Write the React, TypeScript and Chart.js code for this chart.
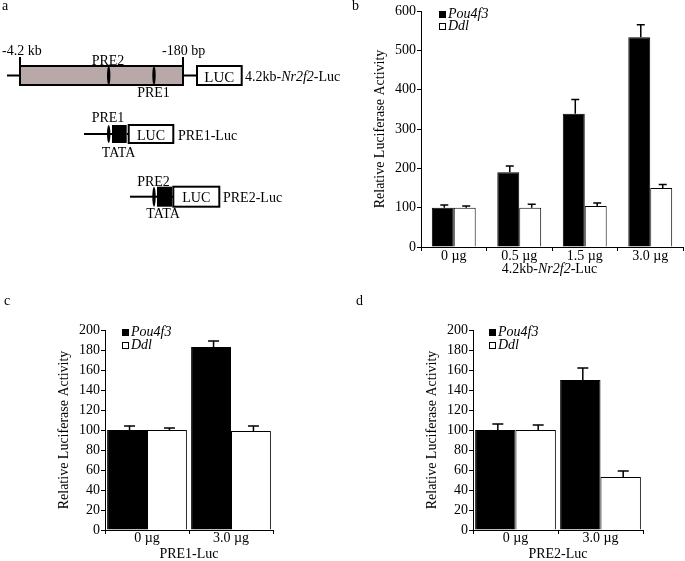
import React, { useEffect, useRef } from 'react';
import { Chart, registerables } from 'chart.js';

Chart.register(...registerables);

const FONT = '"Liberation Serif", "Times New Roman", serif';

// ---------- data ----------
const seriesNames = ['Pou4f3', 'Ddl'];
const seriesColors = ['#000000', '#ffffff'];
const yTitle = 'Relative Luciferase Activity';

// panel b : 4.2kb-Nr2f2-Luc
const bCategories = ['0 µg', '0.5 µg', '1.5 µg', '3.0 µg'];
const bPou4f3 = [100, 190, 339, 533];
const bPou4f3Err = [7, 16, 36, 32];
const bDdl = [100, 100, 104, 150];
const bDdlErr = [4, 9, 8, 9];
const bYMax = 600;
const bYStep = 100;

// panel c : PRE1-Luc
const cCategories = ['0 µg', '3.0 µg'];
const cPou4f3 = [100, 183];
const cPou4f3Err = [4, 6];
const cDdl = [100, 99];
const cDdlErr = [2, 5];
const cYMax = 200;
const cYStep = 20;
const cXTitle = 'PRE1-Luc';

// panel d : PRE2-Luc
const dCategories = ['0 µg', '3.0 µg'];
const dPou4f3 = [100, 150];
const dPou4f3Err = [6, 12];
const dDdl = [100, 53];
const dDdlErr = [5, 6];
const dYMax = 200;
const dYStep = 20;
const dXTitle = 'PRE2-Luc';

// ---------- plugins ----------
const errorBarsPlugin = {
  id: 'errorBars',
  afterDatasetsDraw(chart: any, _args: any, opts: any) {
    const errs: number[][] = opts.errors || [];
    const { ctx } = chart;
    const yScale = chart.scales.y;
    ctx.save();
    ctx.strokeStyle = '#000';
    ctx.lineWidth = opts.lineWidth || 1.5;
    chart.data.datasets.forEach((ds: any, i: number) => {
      const meta = chart.getDatasetMeta(i);
      meta.data.forEach((bar: any, j: number) => {
        const v = ds.data[j] as number;
        const e = (errs[i] && errs[i][j]) || 0;
        const x = bar.x + (opts.shift || 0);
        const yTop = yScale.getPixelForValue(v + e);
        const yBase = yScale.getPixelForValue(v);
        ctx.beginPath();
        ctx.moveTo(x, yBase);
        ctx.lineTo(x, yTop);
        ctx.moveTo(x - opts.cap / 2, yTop);
        ctx.lineTo(x + opts.cap / 2, yTop);
        ctx.stroke();
      });
    });
    ctx.restore();
  },
};

const inlineLegendPlugin = {
  id: 'inlineLegend',
  afterDraw(chart: any, _args: any, opts: any) {
    const { ctx, chartArea } = chart;
    ctx.save();
    ctx.font = `italic 14px ${FONT}`;
    ctx.textBaseline = 'middle';
    ctx.textAlign = 'left';
    chart.data.datasets.forEach((ds: any, i: number) => {
      const s = opts.box;
      const bx = Math.round(chartArea.left + opts.x);
      const cy = chartArea.top + opts.y + i * opts.spacing;
      const by = Math.round(cy - s / 2);
      ctx.fillStyle = ds.backgroundColor;
      ctx.fillRect(bx, by, s, s);
      ctx.strokeStyle = '#000';
      ctx.lineWidth = 1;
      ctx.strokeRect(bx + 0.5, by + 0.5, s - 1, s - 1);
      ctx.fillStyle = '#000';
      ctx.fillText(ds.label, bx + s + opts.gap, cy);
    });
    ctx.restore();
  },
};

type Spec = {
  categories: string[];
  pou: number[];
  pouErr: number[];
  ddl: number[];
  ddlErr: number[];
  yMax: number;
  yStep: number;
  xTitle?: string;
  padding: { left: number; top: number; right: number; bottom: number };
  yWidth: number;
  xHeight: number;
  catPct: number;
  xTickPad: number;
  titlePadBottom: number;
  legend: { x: number; y: number; spacing: number; box: number; gap: number };
  err: { cap: number; shift: number; lineWidth: number };
};

function buildConfig(s: Spec): any {
  const tickFont = { family: FONT, size: 14 };
  return {
    type: 'bar',
    data: {
      labels: s.categories,
      datasets: [
        {
          label: seriesNames[0],
          data: s.pou,
          backgroundColor: seriesColors[0],
          borderColor: '#000',
          borderWidth: 1,
          categoryPercentage: s.catPct,
          barPercentage: 1,
        },
        {
          label: seriesNames[1],
          data: s.ddl,
          backgroundColor: seriesColors[1],
          borderColor: '#000',
          borderWidth: 1,
          categoryPercentage: s.catPct,
          barPercentage: 1,
        },
      ],
    },
    options: {
      responsive: false,
      maintainAspectRatio: false,
      animation: false,
      devicePixelRatio: 1,
      layout: { padding: s.padding },
      plugins: {
        legend: { display: false },
        tooltip: { enabled: false },
        errorBars: { errors: [s.pouErr, s.ddlErr], ...s.err },
        inlineLegend: s.legend,
      },
      scales: {
        x: {
          offset: true,
          grid: {
            display: true,
            offset: true,
            drawOnChartArea: false,
            drawTicks: true,
            tickLength: 4,
            color: '#000',
          },
          border: { display: true, color: '#000', width: 1 },
          ticks: {
            color: '#000',
            font: tickFont,
            padding: s.xTickPad,
            maxRotation: 0,
            autoSkip: false,
          },
          title: s.xTitle
            ? {
                display: true,
                text: s.xTitle,
                color: '#000',
                font: tickFont,
                padding: { top: 0, bottom: s.titlePadBottom },
              }
            : { display: false },
          afterFit: (sc: any) => {
            sc.height = s.xHeight;
          },
        },
        y: {
          min: 0,
          max: s.yMax,
          grid: {
            display: true,
            drawOnChartArea: false,
            drawTicks: true,
            tickLength: 4,
            color: '#000',
          },
          border: { display: true, color: '#000', width: 1 },
          ticks: { stepSize: s.yStep, color: '#000', font: tickFont, padding: 1 },
          title: {
            display: true,
            text: yTitle,
            color: '#000',
            font: tickFont,
            padding: 0,
          },
          afterFit: (sc: any) => {
            sc.width = s.yWidth;
          },
        },
      },
    },
    plugins: [errorBarsPlugin, inlineLegendPlugin],
  };
}

function BarPanel(props: { spec: Spec; left: number; top: number; width: number; height: number }) {
  const ref = useRef<HTMLCanvasElement>(null);
  useEffect(() => {
    const chart = new Chart(ref.current as HTMLCanvasElement, buildConfig(props.spec));
    return () => chart.destroy();
  }, []);
  return (
    <canvas
      ref={ref}
      width={props.width}
      height={props.height}
      style={{ position: 'absolute', left: props.left, top: props.top, width: props.width, height: props.height }}
    />
  );
}

const specB: Spec = {
  categories: bCategories,
  pou: bPou4f3,
  pouErr: bPou4f3Err,
  ddl: bDdl,
  ddlErr: bDdlErr,
  yMax: bYMax,
  yStep: bYStep,
  padding: { left: 32, top: 11, right: 2, bottom: 0 },
  yWidth: 49,
  xHeight: 43,
  catPct: 0.67,
  xTickPad: -3,
  titlePadBottom: 0,
  legend: { x: 18, y: 3.5, spacing: 11.5, box: 7, gap: 2 },
  err: { cap: 8, shift: 1.5, lineWidth: 1.5 },
};

const specC: Spec = {
  categories: cCategories,
  pou: cPou4f3,
  pouErr: cPou4f3Err,
  ddl: cDdl,
  ddlErr: cDdlErr,
  yMax: cYMax,
  yStep: cYStep,
  xTitle: cXTitle,
  padding: { left: 56, top: 40, right: 67, bottom: 0 },
  yWidth: 49,
  xHeight: 31,
  catPct: 0.95,
  xTickPad: -4,
  titlePadBottom: -2,
  legend: { x: 17, y: 2.5, spacing: 13, box: 7, gap: 2 },
  err: { cap: 11, shift: 2.5, lineWidth: 1.5 },
};

const specD: Spec = {
  categories: dCategories,
  pou: dPou4f3,
  pouErr: dPou4f3Err,
  ddl: dDdl,
  ddlErr: dDdlErr,
  yMax: dYMax,
  yStep: dYStep,
  xTitle: dXTitle,
  padding: { left: 84, top: 40, right: 42, bottom: 0 },
  yWidth: 49,
  xHeight: 31,
  catPct: 0.95,
  xTickPad: -4,
  titlePadBottom: -2,
  legend: { x: 16, y: 2.5, spacing: 13, box: 7, gap: 2 },
  err: { cap: 11, shift: 2.5, lineWidth: 1.5 },
};

function Diagram() {
  const ln = { stroke: '#000', strokeWidth: 2 };
  return (
    <svg
      width={685}
      height={561}
      style={{ position: 'absolute', left: 0, top: 0, pointerEvents: 'none' }}
      fontFamily={FONT}
      fontSize={14}
      fill="#000"
    >
      <text x={2} y={10}>a</text>
      <text x={352} y={10}>b</text>
      <text x={4} y={305}>c</text>
      <text x={356} y={305}>d</text>

      {/* 4.2kb construct */}
      <line x1={7} y1={75.5} x2={20} y2={75.5} {...ln} />
      <rect x={20} y={66} width={163} height={19} fill="#b9a8a8" stroke="#000" strokeWidth={2} />
      <line x1={20} y1={57} x2={20} y2={66} {...ln} />
      <line x1={183} y1={57} x2={183} y2={66} {...ln} />
      <ellipse cx={108.7} cy={75.5} rx={1.7} ry={9.5} fill="#000" />
      <ellipse cx={154} cy={75.5} rx={1.7} ry={9.5} fill="#000" />
      <text x={2} y={55}>-4.2 kb</text>
      <text x={162} y={55}>-180 bp</text>
      <text x={108} y={64.5} textAnchor="middle">PRE2</text>
      <text x={153.5} y={97} textAnchor="middle">PRE1</text>
      <line x1={183} y1={75.5} x2={197} y2={75.5} {...ln} />
      <rect x={197} y={66} width={44.7} height={19} fill="#fff" stroke="#000" strokeWidth={2} />
      <text x={219.3} y={81.5} textAnchor="middle" fontSize={15}>LUC</text>
      <text x={245} y={81}>
        4.2kb-<tspan fontStyle="italic">Nr2f2</tspan>-Luc
      </text>

      {/* PRE1-Luc */}
      <line x1={84} y1={134} x2={112} y2={134} {...ln} />
      <ellipse cx={108.7} cy={134} rx={1.7} ry={9} fill="#000" />
      <rect x={112} y={125} width={14.7} height={18} fill="#000" />
      <line x1={126.7} y1={134} x2={128.7} y2={134} {...ln} />
      <rect x={128.7} y={125} width={44.6} height={18} fill="#fff" stroke="#000" strokeWidth={2} />
      <text x={151} y={139.5} textAnchor="middle">LUC</text>
      <text x={178} y={140}>PRE1-Luc</text>
      <text x={108} y={121.7} textAnchor="middle">PRE1</text>
      <text x={118.5} y={156.7} textAnchor="middle">TATA</text>

      {/* PRE2-Luc */}
      <line x1={130} y1={196.7} x2={157} y2={196.7} {...ln} />
      <ellipse cx={154} cy={196.7} rx={1.7} ry={10} fill="#000" />
      <rect x={157} y={186.7} width={15} height={20} fill="#000" />
      <line x1={172} y1={196.7} x2={173.3} y2={196.7} {...ln} />
      <rect x={173.3} y={186.7} width={46} height={20} fill="#fff" stroke="#000" strokeWidth={2} />
      <text x={196.3} y={202} textAnchor="middle">LUC</text>
      <text x={223} y={202}>PRE2-Luc</text>
      <text x={153.5} y={185.7} textAnchor="middle">PRE2</text>
      <text x={163} y={218.3} textAnchor="middle">TATA</text>

      {/* panel b x-axis title */}
      <text x={549.5} y={272.5} textAnchor="middle">
        4.2kb-<tspan fontStyle="italic">Nr2f2</tspan>-Luc
      </text>
    </svg>
  );
}

export default function App() {
  return (
    <div
      style={{
        position: 'absolute',
        left: 0,
        top: 0,
        width: 685,
        height: 561,
        background: '#fff',
        overflow: 'hidden',
      }}
    >
      <BarPanel spec={specB} left={340} top={0} width={345} height={290} />
      <BarPanel spec={specC} left={0} top={290} width={340} height={271} />
      <BarPanel spec={specD} left={340} top={290} width={345} height={271} />
      <Diagram />
    </div>
  );
}
